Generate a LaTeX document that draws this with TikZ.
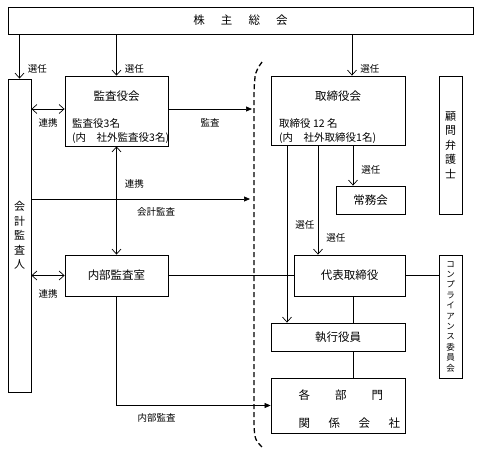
\documentclass[tikz,border=0pt]{standalone}
\usepackage{fontspec}
\setmainfont{Noto Sans CJK JP}
\usepackage{tikz}
\usetikzlibrary{arrows.meta,positioning,calc}
\tikzstyle{box} = [rectangle, draw, black, line width=0.8pt, inner sep=0pt]
\tikzstyle{vbox} = [box, align=center, font=\fontsize{11}{14.4}\selectfont]
\tikzstyle{boxtitle} = [font=\fontsize{11.5}{13}\selectfont]
\tikzstyle{detail} = [font=\fontsize{10.5}{14.5}\selectfont, align=left,
anchor=north west, inner sep=0pt]
\tikzstyle{tag} = [font=\fontsize{9.5}{10}\selectfont, inner sep=0pt]
\tikzstyle{link} = [draw, line width=0.7pt]
\tikzstyle{elect} = [link, -{Straight Barb[length=5pt,width=9pt]}]
\tikzstyle{liaison} = [link, {Straight Barb[length=5pt,width=9pt]}-{Straight Barb[length=5pt,width=9pt]}]
\tikzstyle{audit} = [link, -{Triangle[length=6pt,width=5pt]}]
\tikzstyle{boundary} = [line width=1.3pt, dash pattern=on 5pt off 3pt]

\begin{document}
\begin{tikzpicture}[x=1pt, y=-1pt]
	\useasboundingbox (0,0) rectangle (483,456);
	\node[box, boxtitle, minimum width=465pt, minimum height=27pt] (soukai) at (240.5,20.5)
		{株\hspace{1.4em}主\hspace{1.4em}総\hspace{1.4em}会};
	\node[vbox, minimum width=23pt, minimum height=313pt] (kaikei) at (19.5,235.5) {会\\計\\監\\査\\人};

	\node[box, minimum width=103pt, minimum height=70pt] (kansayaku) at (116.5,111) {};
	\node[boxtitle] (kansayaku title) at (116.5,96) {監査役会};
	\node[detail] (kansayaku detail) at (72,118) {監査役3名\\(内　社外監査役3名)};
	\node[box, boxtitle, minimum width=103pt, minimum height=41pt] (naibu) at (116.5,275.5) {内部監査室};

	\node[box, minimum width=134pt, minimum height=69pt] (torishimari) at (338,110.5) {};
	\node[boxtitle] (torishimari title) at (338,96) {取締役会};
	\node[detail] (torishimari detail) at (279,118) {取締役 12 名\\(内　社外取締役1名)};
	\node[box, boxtitle, minimum width=69pt, minimum height=28pt] (joumu) at (370.5,200) {常務会};
	\node[box, boxtitle, minimum width=111pt, minimum height=41pt] (daihyo) at (349.5,275.5) {代表取締役};
	\node[box, boxtitle, minimum width=134pt, minimum height=28pt] (shikko) at (338,337) {執行役員};
	\node[box, minimum width=134pt, minimum height=55pt] (bumon) at (338,405.5) {};
	\node[boxtitle, align=left, anchor=west, font=\fontsize{11.5}{28}\selectfont] (bumon text) at (295,409)
		{各\hspace{25pt}部\hspace{25pt}門\\関\hspace{18.5pt}係\hspace{18.5pt}会\hspace{18.5pt}社};

	\node[vbox, minimum width=23pt, minimum height=138pt] (komon) at (450.5,145) {顧\\問\\弁\\護\\士};
	\node[vbox, minimum width=23pt, minimum height=123pt, font=\fontsize{8.5}{10.4}\selectfont] (compliance) at (450.5,316.5)
		{コ\\ン\\プ\\ラ\\イ\\ア\\ン\\ス\\委\\員\\会};

	% election from the shareholders
	\coordinate (t in) at ([xshift=14pt]torishimari.north);
	\draw[elect] (soukai.south -| kaikei) -- (kaikei.north) node[tag, pos=0.78, right=8pt]{選任};
	\draw[elect] (soukai.south -| kansayaku) -- (kansayaku.north) node[tag, pos=0.83, right=8pt]{選任};
	\draw[elect] (soukai.south -| t in) -- (t in) node[tag, pos=0.83, right=8pt]{選任};

	% election by the board
	\coordinate (sel a) at ([xshift=-51pt]torishimari.south);
	\coordinate (sel b) at ([xshift=-20pt]torishimari.south);
	\coordinate (sel c) at ([xshift=15pt]torishimari.south);
	\draw[elect] (sel a) -- (sel a |- shikko.north) node[tag, pos=0.45, right=8pt]{選任};
	\draw[elect] (sel b) -- (sel b |- daihyo.north) node[tag, pos=0.85, right=8pt]{選任};
	\draw[elect] (sel c) -- (sel c |- joumu.north) node[tag, pos=0.6, right=8pt]{選任};

	% audits and liaison
	\coordinate (liaise top) at ([yshift=2pt]kansayaku.west);
	\coordinate (audit top) at (252,109);
	\coordinate (audit mid) at (250,199);
	\draw[liaison] (kaikei.east |- liaise top) -- (liaise top) node[tag, midway, below=9pt]{連携};
	\draw[audit] (audit top -| kansayaku.east) -- (audit top) node[tag, midway, below=9pt]{監査};
	\draw[liaison] (kansayaku.south) -- (naibu.north) node[tag, pos=0.35, right=8pt]{連携};
	\draw[audit] (kaikei.east |- audit mid) -- (audit mid) node[tag, pos=0.57, below=8pt]{会計監査};
	\draw[liaison] (kaikei.east |- naibu.west) -- (naibu.west) node[tag, midway, below=14pt]{連携};
	\draw[audit] (naibu.south) |- (bumon.west) node[tag, pos=0.63, below=8pt]{内部監査};

	% reporting lines
	\draw[link] (naibu.east) -- (daihyo.west);
	\draw[link] (daihyo.east) -- (compliance.west |- daihyo.east);
	\draw[link] ([xshift=3.5pt]daihyo.south) -- ([xshift=3.5pt]daihyo.south |- shikko.north);
	\draw[link] ([xshift=15pt]shikko.south) -- ([xshift=15pt]shikko.south |- bumon.north);

	% boundary of the board
	\draw[boundary] (262,62) .. controls (255,72) .. (254,92) -- (254,426) .. controls (255,440) .. (264,449);
\end{tikzpicture}
\end{document}
